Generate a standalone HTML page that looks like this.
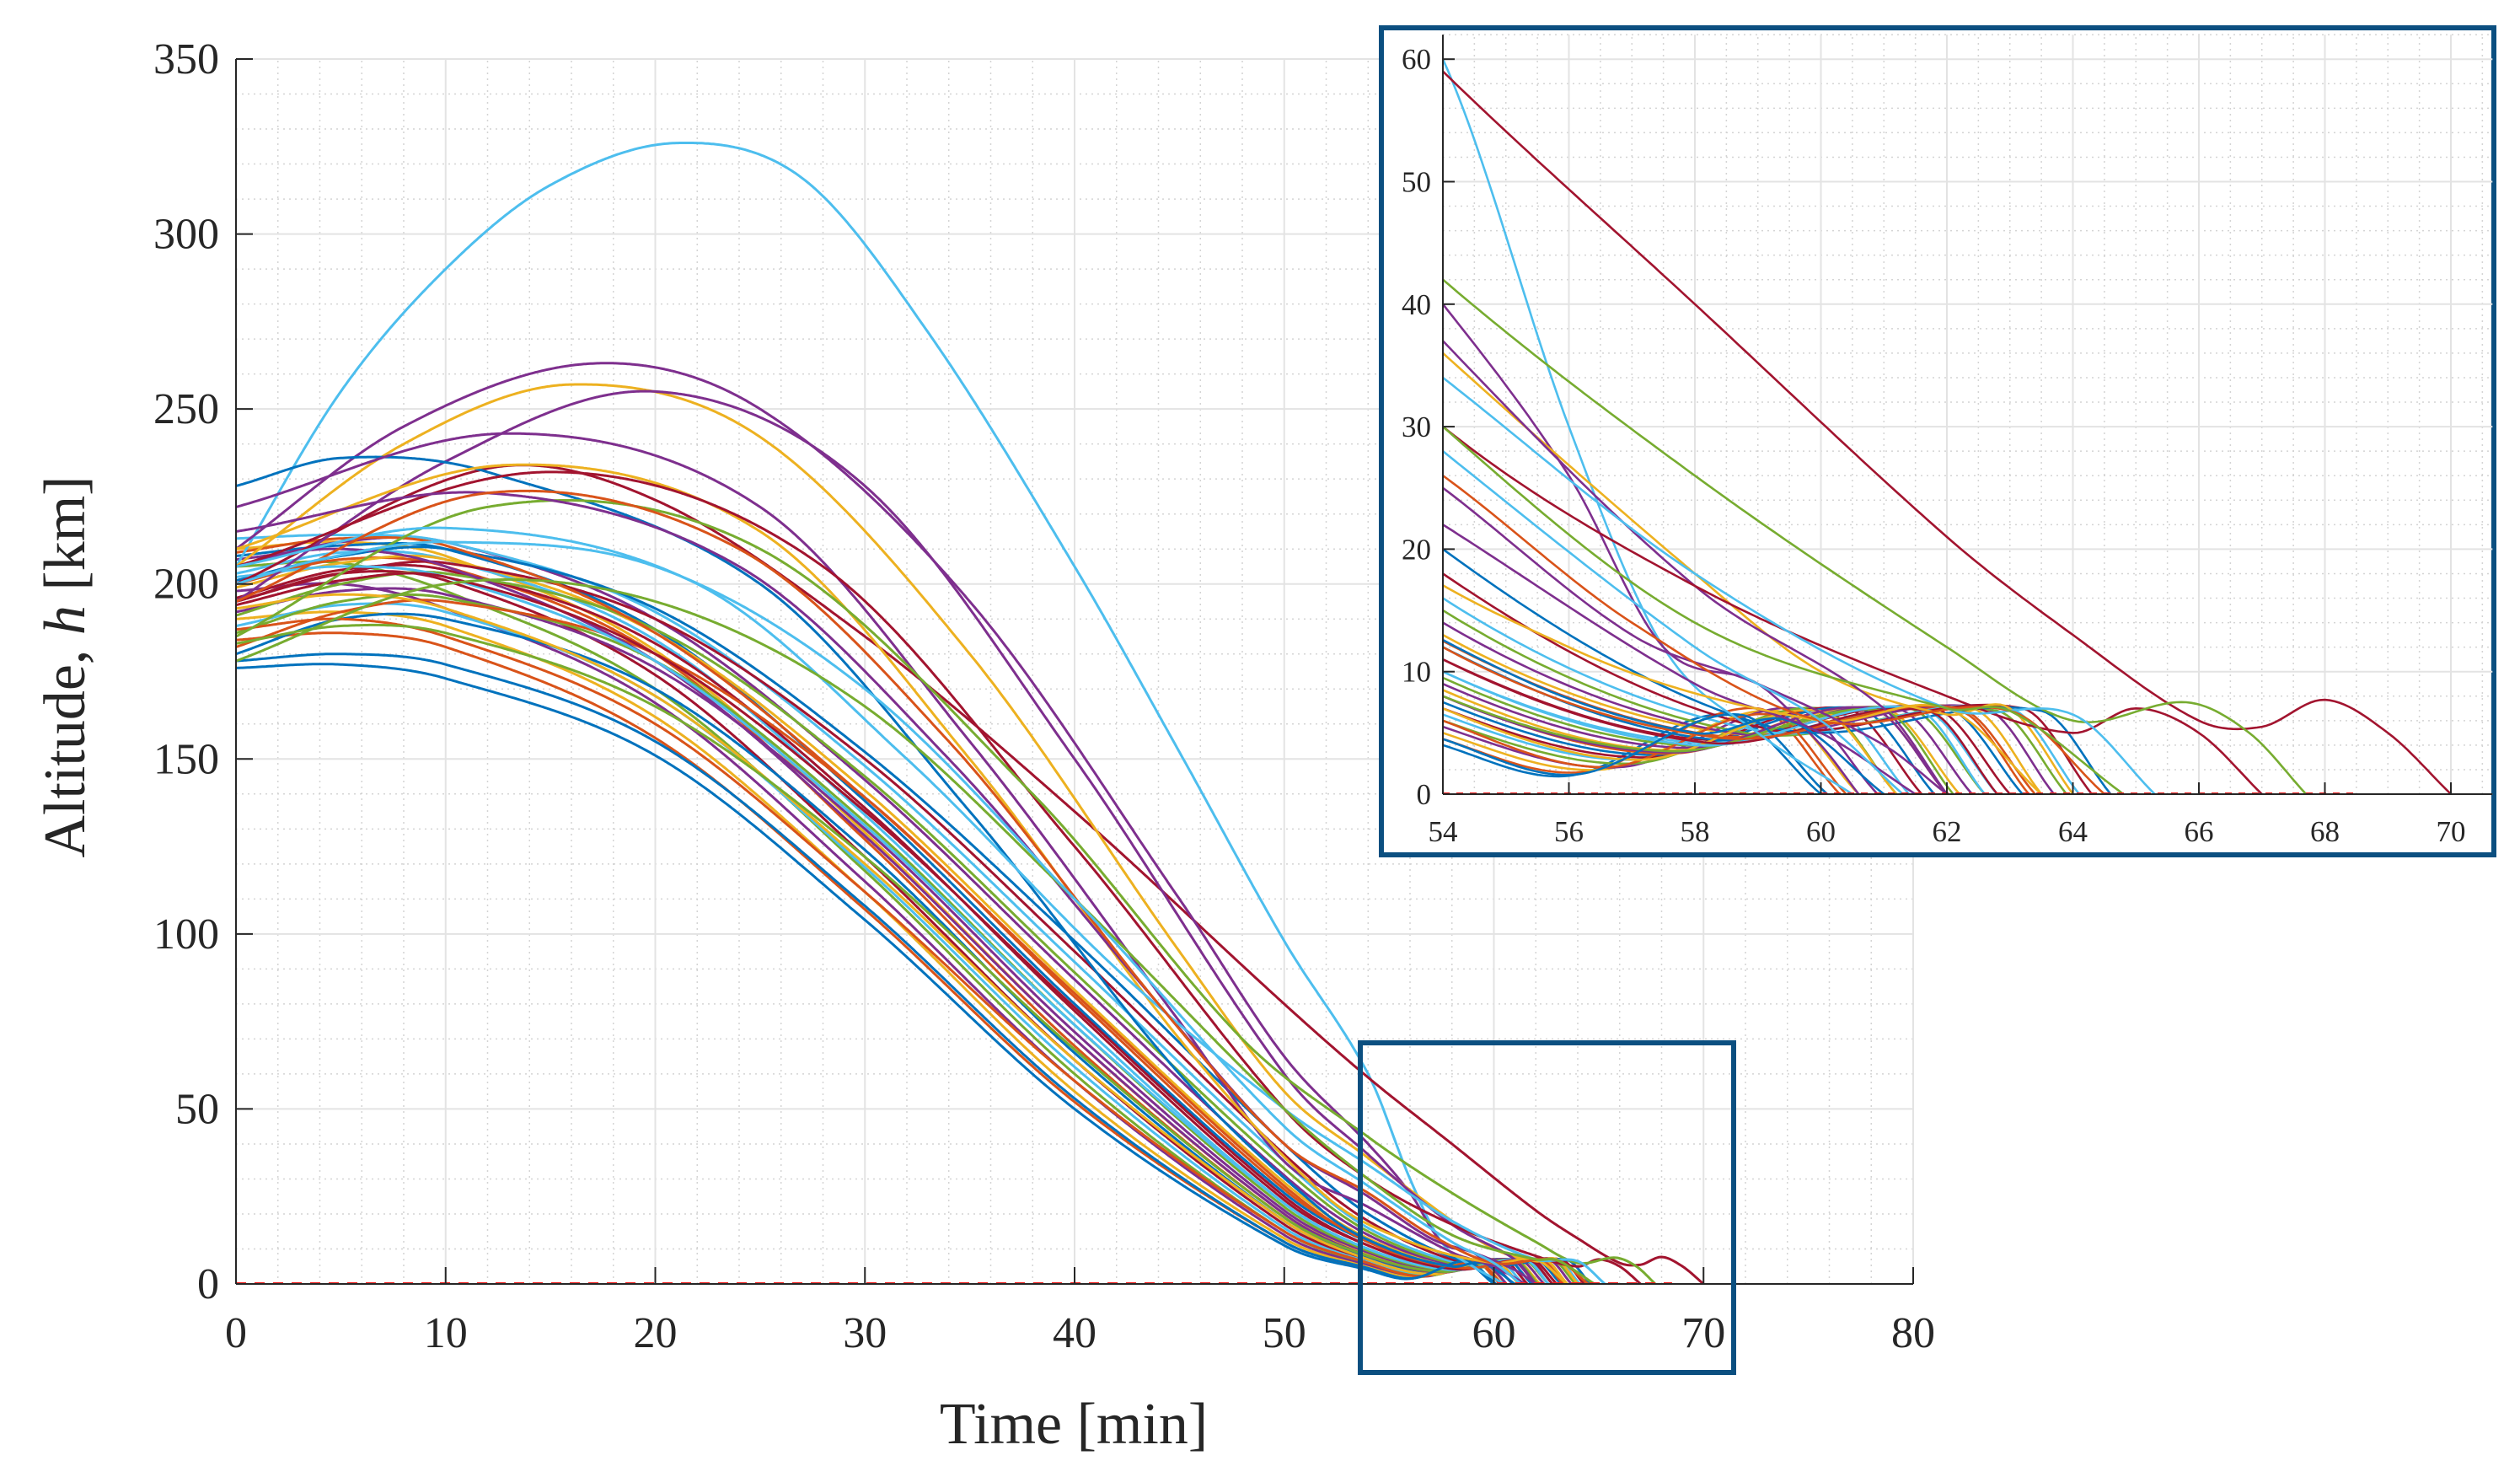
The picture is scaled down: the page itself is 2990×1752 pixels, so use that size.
<!DOCTYPE html>
<html><head><meta charset="utf-8"><style>
html,body{margin:0;padding:0;background:#fff;}
svg{display:block;font-family:"Liberation Serif",serif;}
</style></head><body>
<svg id="chart" width="2990" height="1752" viewBox="0 0 2990 1752" xmlns="http://www.w3.org/2000/svg">
<defs>
<clipPath id="mainClip"><rect x="280" y="60" width="1995" height="1464"/></clipPath>
<clipPath id="insetClip"><rect x="1712" y="42" width="1245" height="901"/></clipPath>
</defs>
<rect x="0" y="0" width="2990" height="1752" fill="#fff"/>
<g id="mainGrid"></g>
<g id="mainLines" clip-path="url(#mainClip)"></g>
<g id="mainAxes"></g>
<text x="1274" y="1712" font-size="70" text-anchor="middle" fill="#262626">Time [min]</text>
<text transform="translate(100,791) rotate(-90)" font-size="70" text-anchor="middle" fill="#262626">Altitude, <tspan font-style="italic">h</tspan> [km]</text>
<rect x="1614" y="1237" width="443" height="391" fill="none" stroke="#0b4f80" stroke-width="6"/>
<rect x="1639" y="33" width="1320" height="981" fill="#fff" stroke="#0b4f80" stroke-width="6"/>
<g id="insetGrid"></g>
<g id="insetLines" clip-path="url(#insetClip)"></g>
<g id="insetAxes"></g>
</svg>
<script>
// ---------- data ----------
const colors = ["#0072BD","#D95319","#EDB120","#7E2F8E","#77AC30","#4DBEEE","#A2142F"];
const xTicksMain = [0,10,20,30,40,50,60,70,80];
const yTicksMain = [0,50,100,150,200,250,300,350];
const xTicksInset = [54,56,58,60,62,64,66,68,70];
const yTicksInset = [0,10,20,30,40,50,60];
// band trajectories: altitude at bandTimes
const bandTimes = [0,5,10,20,30,40,50,54];
const bandAlt = [
[176,177,173,151,104,50,11,4],
[184,186,182,156,107,52,12,4.5],
[190,192,188,162,112,55,13,5],
[198,200,193,166,115,58,14,5.5],
[205,206,198,170,118,60,15,6],
[188,194,192,168,119,62,16,6.5],
[195,203,201,174,122,64,17,7],
[180,190,190,170,124,66,18,7.5],
[200,207,205,180,127,68,19,8],
[210,212,208,181,129,70,20,8.5],
[192,198,197,176,130,72,21,9],
[186,195,196,178,132,74,22,9.5],
[203,209,207,184,134,76,23,10],
[196,204,204,183,136,78,24,11],
[208,211,210,187,138,80,26,12],
[182,192,195,180,139,82,27,12.5],
[199,206,207,186,141,84,29,13],
[205,212,212,190,144,87,31,14],
[191,200,203,187,145,89,33,15],
[213,214,212,192,148,92,35,16],
[195,203,206,190,150,95,37,18],
[201,208,210,193,152,98,40,20],
[187,190,185,160,112,58,15,6],
[193,197,193,168,120,64,18,7],
[207,210,205,178,128,70,20,8],
[183,188,186,165,122,67,19,8],
[202,205,202,178,131,74,23,10],
[194,201,202,180,135,79,25,11],
[178,180,177,155,108,53,12,4.5],
[209,213,211,186,139,83,28,12]
];
// tail: [tMin, hMin, tPeak, hPeak, tEnd]
const bandTail = [
[56,1.5,58.5,6.5,60],[56.2,1.8,59,7,60.3],[56.5,2,59.3,6.8,60.6],[56.8,2.2,59.6,7,60.9],
[57,2.5,60,7,61.2],[57,2.8,60.2,6.8,61.4],[57.2,3,60.4,7,61.6],[57.3,3.2,60.6,7,61.8],
[57.5,3.3,60.8,7,62],[57.5,3.6,61,7,62.2],[57.7,3.8,61.2,7,62.4],[57.8,4,61.4,7,62.6],
[58,4.2,61.6,7,62.8],[58,4.5,61.8,7,63],[58.2,4.5,62,7,63.2],[58.3,4.8,62.2,6.8,63.3],
[58.5,5,62.4,7,63.5],[58.6,5,62.6,7,63.7],[58.8,5,62.8,6.8,63.9],[59,5.2,63,7,64.1],
[59,5.5,63.2,7,64.3],[59.2,5.5,63.5,6.8,64.6],[56.6,2.2,59.2,6.5,60.4],[57.1,2.8,60,6.8,61.2],
[57.6,3.4,60.8,7,62],[57.6,3.5,61,6.8,62.1],[58,4,61.5,7,62.6],[58.2,4.2,61.7,6.8,62.8],
[56.1,1.6,58.7,6.5,60.1],[58.4,4.6,62.2,7,63.4]
];
// outlier trajectories: explicit time / altitude pairs
const outT = [
[0,5,10,15,21,27,33,40,45,50,54,56,57.5,59,60.5],
[0,12,20,30,40,50,54,58,62,64,66,67,68,69,70],
[0,8,17,25,35,45,50,54,56,57.5,59,60,60.6],
[0,8,16,25,35,45,50,54,58,60,62,63,64],
[0,10,20,30,40,50,54,58,61,62],
[0,5,12,25,35,45,52,55,58,59.5,61],
[0,13,25,35,45,50,54,58,60,61.5],
[0,13,25,35,45,52,56,60,62,63.5],
[0,15,28,40,50,54,58,62,64,65,66,67],
[0,12,25,38,48,54,58,62,64,65.8,66.8,67.7],
[0,12,24,34,44,50,54,57,59,61,62],
[0,10,22,32,42,50,54,58,62,64,65.3],
[0,12,24,34,44,50,54,57,60,63,64.5],
[0,10,20,30,40,50,54,58,62,63,64.8],
[0,4,10,20,30,40,50,54,58,60,61.3]
];
const outH = [
[205,255,290,314,326,316,272,205,152,98,60,30,12,5,0],
[200,233,224,185,135,80,59,40,21,13,6,5.5,7.7,5,0],
[210,245,263,250,195,110,65,40,26,12,9,4,0],
[205,240,257,242,180,95,55,36,18,10,6.5,7,0],
[195,235,255,228,150,60,37,17,7,0],
[228,236,232,200,135,60,20,10,5,6,0],
[222,243,222,155,75,35,22,9,5,0],
[210,234,215,150,70,25,12,6,7,0],
[205,232,205,125,50,30,17,8,5,7,5,0],
[185,222,210,140,70,42,26,12,6,7.5,5,0],
[215,226,205,150,80,40,25,13,9,4,0],
[205,216,200,150,90,50,34,18,7,6.5,0],
[195,226,210,155,80,40,26,14,6,6.8,0],
[178,200,195,165,110,50,30,14,7,6.8,0],
[200,207,212,205,170,110,45,28,12,6,0]
];
const outColors = [5,6,3,2,3,0,3,2,6,4,3,5,1,4,5];
const refLineEnd = 68.5;

// ---------- scales ----------
const X = t => 280 + t*24.875;
const Y = h => 1523 - h*4.1514;
const XI = t => 1712 + (t-54)*74.75;
const YI = h => 942 - h*14.53;
const NS = "http://www.w3.org/2000/svg";
function mk(tag, attrs, parent){const e=document.createElementNS(NS,tag);for(const k in attrs)e.setAttribute(k,attrs[k]);parent.appendChild(e);return e;}

// smooth cubic Hermite with finite-difference tangents
function smooth(ts, hs){
  const n=ts.length, m=new Array(n);
  for(let i=0;i<n;i++){
    if(i===0) m[i]=(hs[1]-hs[0])/(ts[1]-ts[0]);
    else if(i===n-1) m[i]=(hs[n-1]-hs[n-2])/(ts[n-1]-ts[n-2]);
    else m[i]=(hs[i+1]-hs[i-1])/(ts[i+1]-ts[i-1]);
  }
  const out=[];
  for(let i=0;i<n-1;i++){
    const h=ts[i+1]-ts[i], steps=Math.max(4,Math.ceil(h/0.08));
    for(let s=0;s<steps;s++){
      const u=s/steps, u2=u*u,u3=u2*u;
      const v=(2*u3-3*u2+1)*hs[i]+(u3-2*u2+u)*h*m[i]+(-2*u3+3*u2)*hs[i+1]+(u3-u2)*h*m[i+1];
      out.push([ts[i]+u*h, Math.max(0,v)]);
    }
  }
  out.push([ts[n-1],hs[n-1]]);
  return out;
}
function pathD(pts,fx,fy){return pts.map((p,i)=>(i?"L":"M")+fx(p[0]).toFixed(1)+","+fy(p[1]).toFixed(1)).join("");}

// ---------- grids ----------
const mg=document.getElementById("mainGrid");
for(let t=0;t<=80;t+=2){ if(t%10) mk("line",{x1:X(t),x2:X(t),y1:Y(0),y2:Y(350),stroke:"#d4d4d4","stroke-width":1.5,"stroke-dasharray":"2,5"},mg);}
for(let h=0;h<=350;h+=10){ if(h%50) mk("line",{x1:X(0),x2:X(80),y1:Y(h),y2:Y(h),stroke:"#d4d4d4","stroke-width":1.5,"stroke-dasharray":"2,5"},mg);}
xTicksMain.forEach(t=>mk("line",{x1:X(t),x2:X(t),y1:Y(0),y2:Y(350),stroke:"#e3e3e3","stroke-width":2},mg));
yTicksMain.forEach(h=>mk("line",{x1:X(0),x2:X(80),y1:Y(h),y2:Y(h),stroke:"#e3e3e3","stroke-width":2},mg));

const ig=document.getElementById("insetGrid");
for(let t=54;t<=70.6;t+=0.5){ if(Math.abs(t%2)>0.01) mk("line",{x1:XI(t),x2:XI(t),y1:YI(0),y2:YI(62),stroke:"#d4d4d4","stroke-width":1.5,"stroke-dasharray":"2,5"},ig);}
for(let h=0;h<=62;h+=2){ if(h%10) mk("line",{x1:XI(54),x2:XI(70.66),y1:YI(h),y2:YI(h),stroke:"#d4d4d4","stroke-width":1.5,"stroke-dasharray":"2,5"},ig);}
xTicksInset.forEach(t=>mk("line",{x1:XI(t),x2:XI(t),y1:YI(0),y2:YI(62),stroke:"#e3e3e3","stroke-width":2},ig));
yTicksInset.forEach(h=>mk("line",{x1:XI(54),x2:XI(70.66),y1:YI(h),y2:YI(h),stroke:"#e3e3e3","stroke-width":2},ig));

// ---------- series ----------
const series=[];
bandAlt.forEach((row,i)=>{
  const tl=bandTail[i];
  const ts=bandTimes.concat([tl[0],tl[2],tl[4]]);
  const hs=row.concat([tl[1],tl[3],0]);
  series.push({pts:smooth(ts,hs),color:colors[i%7]});
});
outT.forEach((ts,i)=>series.push({pts:smooth(ts,outH[i]),color:colors[outColors[i]]}));

const ml=document.getElementById("mainLines"), il=document.getElementById("insetLines");
series.forEach((s,i)=>{
  const p=mk("path",{d:pathD(s.pts,X,Y),fill:"none",stroke:s.color,"stroke-width":3,"stroke-linejoin":"round"},ml);
  
  
  const q=mk("path",{d:pathD(s.pts.filter(p=>p[0]>=53.5),XI,YI),fill:"none",stroke:s.color,"stroke-width":2.6,"stroke-linejoin":"round"},il);
  
  
});
const r1=mk("line",{x1:X(0),x2:X(refLineEnd),y1:Y(0),y2:Y(0),stroke:"#ff2020","stroke-width":4,"stroke-dasharray":"12,10"},ml);


const r2=mk("line",{x1:XI(54),x2:XI(refLineEnd),y1:YI(0),y2:YI(0),stroke:"#ff2020","stroke-width":4,"stroke-dasharray":"8,8"},il);



// ---------- axes ----------
const ma=document.getElementById("mainAxes");
mk("line",{x1:X(0),x2:X(80),y1:Y(0),y2:Y(0),stroke:"#262626","stroke-width":2},ma);
mk("line",{x1:X(0),x2:X(0),y1:Y(0),y2:Y(350),stroke:"#262626","stroke-width":2},ma);
xTicksMain.forEach(t=>{
  mk("line",{x1:X(t),x2:X(t),y1:Y(0),y2:Y(0)-20,stroke:"#262626","stroke-width":2},ma);
  const tx=mk("text",{x:X(t),y:1598,"font-size":52,"text-anchor":"middle",fill:"#262626"},ma);
  tx.textContent=t;
  
  
});
yTicksMain.forEach(h=>{
  mk("line",{x1:X(0),x2:X(0)+20,y1:Y(h),y2:Y(h),stroke:"#262626","stroke-width":2},ma);
  const tx=mk("text",{x:260,y:Y(h)+17,"font-size":52,"text-anchor":"end",fill:"#262626"},ma);
  tx.textContent=h;
  
  
});
const ia=document.getElementById("insetAxes");
mk("line",{x1:XI(54),x2:XI(70.66),y1:YI(0),y2:YI(0),stroke:"#262626","stroke-width":2},ia);
mk("line",{x1:XI(54),x2:XI(54),y1:YI(0),y2:YI(62),stroke:"#262626","stroke-width":2},ia);
xTicksInset.forEach(t=>{
  mk("line",{x1:XI(t),x2:XI(t),y1:YI(0),y2:YI(0)-14,stroke:"#262626","stroke-width":2},ia);
  const tx=mk("text",{x:XI(t),y:998,"font-size":35,"text-anchor":"middle",fill:"#262626"},ia);
  tx.textContent=t;
  
  
});
yTicksInset.forEach(h=>{
  mk("line",{x1:XI(54),x2:XI(54)+14,y1:YI(h),y2:YI(h),stroke:"#262626","stroke-width":2},ia);
  const tx=mk("text",{x:1698,y:YI(h)+12,"font-size":35,"text-anchor":"end",fill:"#262626"},ia);
  tx.textContent=h;
  
  
});
</script>
</body></html>
